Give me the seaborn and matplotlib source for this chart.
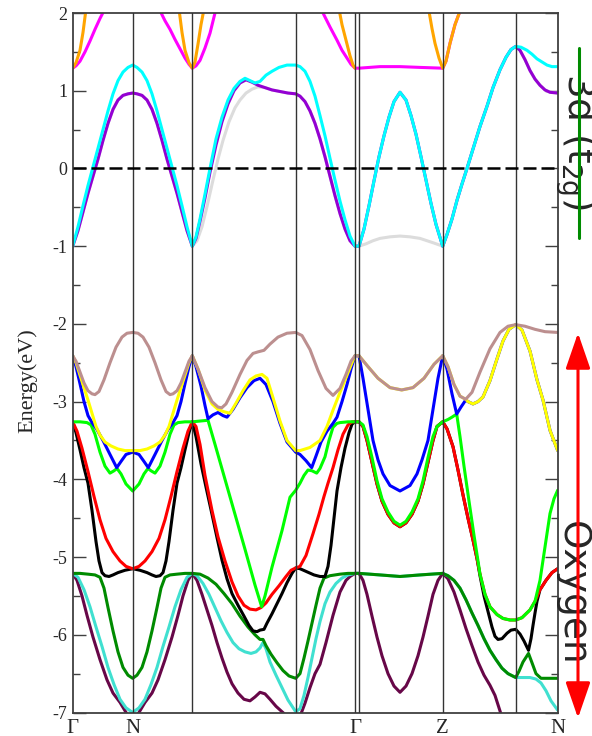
import numpy as np
import pandas as pd
import matplotlib
matplotlib.use("Agg")
import matplotlib.pyplot as plt
from matplotlib.patches import FancyArrowPatch, ArrowStyle
from matplotlib.lines import Line2D
from matplotlib.ticker import MultipleLocator
import seaborn as sns

nan = np.nan

# high symmetry points along the path (path length units)
kpts = [72.7, 132.7, 192.3, 295.7, 355.0, 359.0, 442.7, 515.7, 557.7]
klabel_pos = [72.7, 132.7, 355.0, 442.7, 557.7]
klabels = ["Γ", "N", "Γ", "Z", "N"]

# band energies (k, E in eV)
maroon = [(72.7, -5.21), (77, -5.30), (82, -5.50), (87, -5.75), (93, -6.03), (100, -6.32), (107, -6.58), (113, -6.75),
          (120, -6.87), (127, -7.02), (132.7, -7.12), (138, -7.02), (145, -6.87), (152, -6.75), (158, -6.58),
          (165, -6.32), (172, -6.03), (178, -5.75), (183, -5.50), (188, -5.30), (192.3, -5.21),
          (197, -5.30), (202, -5.48), (207, -5.68), (212, -5.88), (217, -6.10), (222, -6.30), (227, -6.48),
          (232, -6.63), (238, -6.75), (244, -6.83), (250, -6.85), (255, -6.80), (260, -6.74), (265, -6.76),
          (270, -6.83), (276, -6.92), (282, -6.99), (288, -7.06), (295.7, -7.15),
          (300, -7.05), (305, -6.88), (310, -6.68), (315, -6.50), (320, -6.38), (326, -6.10), (333, -5.75),
          (340, -5.45), (346, -5.30), (350, -5.25), (355, -5.21),
          (359, -5.21), (363, -5.30), (367, -5.48), (372, -5.76), (377, -6.03), (382, -6.27), (388, -6.50),
          (394, -6.66), (400, -6.74), (406, -6.66), (412, -6.50), (418, -6.27), (423, -6.03), (428, -5.76),
          (433, -5.48), (438, -5.30), (442.7, -5.21),
          (448, -5.28), (454, -5.45), (460, -5.68), (466, -5.92), (472, -6.14), (478, -6.35), (484, -6.52),
          (490, -6.65), (495, -6.78), (500, -6.98), (505, -7.20), (515.7, -7.50), (557.7, -7.60)]

green4 = [(72.7, -5.21), (80, -5.21), (88, -5.22), (95, -5.23), (100, -5.26), (104, -5.40), (108, -5.65), (113, -5.95),
          (118, -6.22), (123, -6.42), (128, -6.52), (132.7, -6.56), (137, -6.52), (142, -6.42), (147, -6.22),
          (152, -5.95), (157, -5.65), (161, -5.40), (165, -5.26), (170, -5.23), (177, -5.22), (185, -5.21),
          (192.3, -5.21),
          (200, -5.22), (208, -5.27), (216, -5.35), (224, -5.47), (232, -5.60), (240, -5.76), (248, -5.90),
          (255, -6.00), (260, -6.06), (263, -6.06), (266, -6.14), (271, -6.25), (277, -6.36), (283, -6.46),
          (289, -6.53), (295.7, -6.56),
          (300, -6.50), (304, -6.30), (308, -6.08), (312, -5.85), (316, -5.62), (320, -5.40), (324, -5.27),
          (330, -5.24), (340, -5.22), (348, -5.21), (355, -5.21),
          (359, -5.21), (380, -5.23), (400, -5.25), (420, -5.23), (442.7, -5.21),
          (448, -5.24), (454, -5.30), (460, -5.40), (466, -5.55), (472, -5.72), (478, -5.88), (484, -6.05),
          (490, -6.20), (496, -6.32), (502, -6.43), (508, -6.50), (515.7, -6.55),
          (519, -6.47), (523, -6.35), (528.5, -6.24), (532, -6.36), (536, -6.50), (541, -6.56), (550, -6.56),
          (557.7, -6.56)]

turq_a = [(72.7, -5.21), (78, -5.26), (84, -5.42), (90, -5.64), (96, -5.90), (102, -6.15), (108, -6.42), (114, -6.64),
          (120, -6.83), (126, -6.94), (132.7, -7.00), (139, -6.94), (145, -6.83), (151, -6.64), (157, -6.42),
          (163, -6.15), (169, -5.90), (175, -5.64), (181, -5.42), (187, -5.26), (192.3, -5.21),
          (197, -5.24), (203, -5.34), (209, -5.48), (215, -5.65), (221, -5.82), (227, -5.97), (233, -6.10),
          (239, -6.18), (245, -6.22), (251, -6.24), (256, -6.22), (260, -6.17), (263, -6.10), (266, -6.18),
          (270, -6.35), (276, -6.52), (282, -6.68), (288, -6.84), (295.7, -6.99),
          (300, -6.95), (304, -6.78), (308, -6.55), (312, -6.30), (316, -6.05), (320, -5.83), (325, -5.60),
          (330, -5.45), (336, -5.34), (342, -5.27), (348, -5.23), (355, -5.21)]
turq_b = [(522, -6.55), (530, -6.55), (536, -6.57), (541, -6.62), (546, -6.72), (551, -6.85), (557.7, -6.97)]

red = [(72.7, -3.26), (77, -3.38), (82, -3.60), (88, -3.90), (94, -4.22), (100, -4.52), (106, -4.76), (113, -4.93),
       (120, -5.05), (126, -5.12), (132.7, -5.15), (139, -5.12), (145, -5.05), (152, -4.93), (159, -4.76),
       (165, -4.52), (171, -4.22), (177, -3.90), (183, -3.60), (188, -3.38), (192.3, -3.26),
       (196, -3.32), (200, -3.55), (205, -3.95), (212, -4.40), (218, -4.74), (225, -5.05), (232, -5.32),
       (238, -5.50), (244, -5.62), (250, -5.67), (256, -5.68), (261, -5.65), (266, -5.59), (272, -5.48),
       (279, -5.37), (286, -5.25), (291, -5.17), (295.7, -5.14),
       (300, -5.12), (306, -4.98), (313, -4.70), (319, -4.45), (324, -4.22), (328, -4.05), (333, -3.85),
       (338, -3.62), (343, -3.42), (348, -3.30), (352, -3.26), (355, -3.26),
       (359, -3.26), (363, -3.32), (367, -3.50), (372, -3.78), (377, -4.06), (382, -4.28), (388, -4.45),
       (394, -4.56), (400, -4.61), (406, -4.56), (412, -4.45), (418, -4.28), (423, -4.06), (428, -3.78),
       (433, -3.50), (437, -3.32), (442.7, -3.26),
       (447, -3.35), (453, -3.58), (458, -3.88), (463, -4.20), (468, -4.50), (473, -4.78), (477, -5.02),
       (480, -5.22), (485, -5.48), (490, -5.64), (497, -5.74), (503, -5.79), (510, -5.81), (515.7, -5.81),
       (522, -5.78), (530, -5.68), (535, -5.57), (540, -5.42), (546, -5.30), (552, -5.20), (557.7, -5.15)]

black_a = [(72.7, -3.26), (76, -3.40), (80, -3.62), (84, -3.85), (88, -4.05), (92, -4.40), (96, -4.80), (99, -5.05),
           (102, -5.20), (105, -5.24), (109, -5.25), (113, -5.23), (118, -5.20), (125, -5.17), (132.7, -5.15),
           (140, -5.17), (147, -5.20), (152, -5.23), (156, -5.25), (160, -5.24), (163, -5.20), (166, -5.05),
           (169, -4.80), (173, -4.40), (177, -4.05), (181, -3.85), (185, -3.62), (189, -3.40), (192.3, -3.26),
           (196, -3.45), (201, -3.80), (206, -4.10), (212, -4.45), (217, -4.75), (222, -5.04), (227, -5.28),
           (232, -5.47), (238, -5.62), (244, -5.76), (249, -5.88), (253, -5.95), (257, -5.96), (260, -5.94),
           (264, -5.93), (267, -5.85), (272, -5.73), (277, -5.60), (282, -5.47), (287, -5.33), (292, -5.21),
           (295.7, -5.14),
           (300, -5.15), (307, -5.19), (314, -5.23), (320, -5.25), (325, -5.25), (328, -5.12), (331, -4.85),
           (334, -4.50), (337, -4.15), (341, -3.85), (345, -3.60), (349, -3.40), (352, -3.29), (355, -3.26)]
black_b = [(480, -5.24), (484, -5.50), (488, -5.70), (492, -5.90), (495, -6.02), (498, -6.06), (502, -6.05),
           (507, -5.98), (511, -5.94), (515.7, -5.93), (520, -5.99), (524, -6.08), (528.5, -6.20), (531, -6.05),
           (533, -5.88), (535, -5.72), (537, -5.57)]

green = [(72.7, -3.26), (80, -3.26), (87, -3.27), (91, -3.30), (95, -3.42), (100, -3.65), (105, -3.83), (110, -3.92),
         (114, -3.89), (117, -3.86), (121, -3.93), (126, -4.06), (132.7, -4.15), (139, -4.06), (144, -3.93),
         (148, -3.86), (151, -3.89), (155, -3.92), (160, -3.83), (165, -3.65), (170, -3.42), (174, -3.30),
         (178, -3.27), (185, -3.26), (192.3, -3.26),
         (200, -3.25), (208, -3.24), (215, -3.55), (225, -4.00), (235, -4.45), (245, -4.90), (255, -5.36),
         (261.7, -5.64), (265, -5.50), (272, -5.13), (282, -4.66), (290, -4.23), (295.7, -4.14),
         (300, -4.05), (304, -3.95), (308, -3.88), (312, -3.89), (316.7, -3.92), (320, -3.86), (325, -3.71),
         (329, -3.50), (333, -3.33), (337, -3.28), (340, -3.27), (348, -3.26), (355, -3.26),
         (359, -3.26), (363, -3.30), (367, -3.45), (372, -3.72), (377, -4.02), (382, -4.25), (388, -4.42),
         (394, -4.54), (400, -4.59), (406, -4.54), (412, -4.42), (418, -4.25), (423, -4.02), (428, -3.72),
         (433, -3.45), (437, -3.32), (442.7, -3.26),
         (448, -3.23), (452, -3.20), (456.7, -3.16), (460, -3.45), (464, -3.83), (469, -4.28), (474, -4.72),
         (478, -5.05), (480, -5.22), (485, -5.48), (490, -5.64), (497, -5.74), (503, -5.79), (510, -5.81),
         (515.7, -5.81), (522, -5.78), (530, -5.68), (535, -5.57), (540, -5.30), (545, -4.87), (550, -4.44),
         (554, -4.25), (557.7, -4.14)]

blue_a = [(72.7, -2.41), (76, -2.55), (80, -2.77), (84, -3.00), (88, -3.18), (92, -3.27), (97, -3.36), (103, -3.50),
          (110, -3.68), (116.7, -3.85), (121, -3.77), (126, -3.68), (132.7, -3.65), (139, -3.68), (144, -3.77),
          (148.3, -3.85), (155, -3.68), (162, -3.50), (168, -3.36), (173, -3.27), (177, -3.18), (181, -3.00),
          (185, -2.77), (189, -2.55), (192.3, -2.41),
          (196, -2.55), (201, -2.80), (205, -3.05), (208, -3.22), (213, -3.17), (218, -3.14), (223, -3.18),
          (227, -3.20), (233, -3.10), (240, -2.95), (247, -2.82), (254, -2.73), (260, -2.70), (266, -2.78),
          (273, -3.00), (280, -3.28), (287, -3.52), (295.7, -3.65),
          (300, -3.68), (306, -3.76), (311.7, -3.85), (316, -3.70), (321, -3.52), (327, -3.38), (333, -3.28),
          (337, -3.20), (342, -3.00), (347, -2.78), (351, -2.58), (355, -2.41),
          (359, -2.41), (363, -2.70), (368, -3.10), (373, -3.50), (378, -3.75), (383, -3.93), (390, -4.08),
          (400, -4.15), (410, -4.08), (417, -3.93), (422, -3.75), (428, -3.50), (433, -3.10), (438, -2.70),
          (442.7, -2.41),
          (447, -2.58), (452, -2.90), (456.7, -3.16), (461, -3.07), (465.7, -2.98)]

yellow_a = [(72.7, -2.41), (76, -2.50), (80, -2.66), (84, -2.82), (88, -2.98), (92, -3.15), (96, -3.32), (100, -3.43),
            (105, -3.52), (111, -3.57), (118, -3.61), (125, -3.63), (132.7, -3.63), (140, -3.63), (147, -3.61),
            (154, -3.57), (160, -3.52), (165, -3.43), (169, -3.32), (173, -3.15), (177, -2.98), (181, -2.82),
            (185, -2.66), (189, -2.50), (192.3, -2.41),
            (198, -2.58), (205, -2.85), (212, -3.03), (218, -3.10), (224, -3.13), (230, -3.15), (236, -3.02),
            (243, -2.86), (250, -2.72), (256, -2.67), (262, -2.65), (267, -2.70), (273, -2.95), (280, -3.25),
            (287, -3.50), (295.7, -3.63),
            (300, -3.63), (310, -3.59), (320, -3.50), (327, -3.32), (333, -3.11), (340, -2.88), (347, -2.66),
            (352, -2.50), (355, -2.41)]
yellow_tail = [(468, -3.00), (473, -3.03), (478, -3.00), (483, -2.94), (490, -2.73), (497, -2.45), (503, -2.22),
               (509, -2.07), (515.7, -2.01), (522, -2.08), (530, -2.35), (537, -2.72), (543, -2.98), (550, -3.37),
               (557.7, -3.63)]

brown = [(72.7, -2.41), (76, -2.48), (80, -2.62), (84, -2.76), (88, -2.86), (92, -2.90), (95, -2.91), (99, -2.87),
         (104, -2.72), (110, -2.50), (116, -2.30), (122, -2.17), (127, -2.12), (132.7, -2.11), (138, -2.12),
         (143, -2.17), (149, -2.30), (155, -2.50), (161, -2.72), (166, -2.87), (170, -2.91), (173, -2.90),
         (177, -2.86), (181, -2.76), (185, -2.62), (189, -2.48), (192.3, -2.41),
         (198, -2.58), (205, -2.82), (212, -3.00), (218, -3.07), (221.7, -3.08), (226, -3.03), (232, -2.88),
         (240, -2.65), (247, -2.47), (253, -2.38), (258, -2.36), (264, -2.34), (270, -2.26), (278, -2.17),
         (287, -2.12), (295.7, -2.11),
         (302, -2.15), (310, -2.33), (318, -2.60), (326, -2.83), (333, -2.92), (340, -2.83), (346, -2.65),
         (351, -2.48), (355, -2.41),
         (359, -2.41), (368, -2.55), (378, -2.70), (390, -2.82), (401.7, -2.85), (413, -2.82), (424, -2.70),
         (434, -2.52), (442.7, -2.41),
         (448, -2.55), (454, -2.78), (460, -2.93), (465.7, -2.97), (472, -2.88), (480, -2.62), (490, -2.32),
         (500, -2.11), (508, -2.03), (515.7, -2.01), (525, -2.03), (535, -2.07), (545, -2.10), (557.7, -2.11)]

cyan = [(72.7, -1.00), (78, -0.75), (83, -0.48), (88, -0.22), (93, 0.02), (98, 0.26), (103, 0.50), (108, 0.74),
        (113, 0.96), (118, 1.13), (123, 1.24), (128, 1.30), (132.7, 1.33), (137, 1.30), (142, 1.24), (147, 1.13),
        (152, 0.96), (157, 0.74), (162, 0.50), (167, 0.26), (172, 0.02), (177, -0.22), (182, -0.48), (187, -0.75),
        (192.3, -1.00),
        (196, -0.88), (200, -0.65), (205, -0.33), (210, 0.00), (216, 0.38), (222, 0.66), (228, 0.88), (234, 1.03),
        (240, 1.12), (245, 1.16), (250, 1.13), (255, 1.10), (260, 1.12), (266, 1.20), (272, 1.25), (279, 1.30),
        (287, 1.33), (295.7, 1.33),
        (300, 1.31), (305, 1.25), (310, 1.12), (315, 0.93), (320, 0.68), (325, 0.42), (330, 0.13), (335, -0.15),
        (340, -0.42), (345, -0.66), (350, -0.87), (355, -1.00),
        (359, -1.00), (364, -0.78), (369, -0.48), (374, -0.16), (379, 0.15), (384, 0.42), (389, 0.66), (394, 0.86),
        (400, 0.98), (406, 0.88), (411, 0.68), (416, 0.44), (421, 0.15), (426, -0.15), (431, -0.45), (436, -0.72),
        (442.7, -1.00),
        (447, -0.85), (452, -0.65), (457, -0.41), (462, -0.20), (467, 0.00), (473, 0.25), (480, 0.54), (487, 0.80),
        (493, 1.04), (500, 1.27), (506, 1.43), (511, 1.53), (515.7, 1.57), (521, 1.56), (527, 1.52), (532, 1.47),
        (537, 1.41), (542, 1.37), (547, 1.33), (552, 1.31), (557.7, 1.31)]

violet_a = [(72.7, -1.00), (78, -0.80), (83, -0.56), (88, -0.32), (93, -0.10), (98, 0.12), (103, 0.36), (108, 0.58),
            (113, 0.76), (118, 0.88), (123, 0.94), (128, 0.96), (132.7, 0.97), (137, 0.96), (142, 0.94), (147, 0.88),
            (152, 0.76), (157, 0.58), (162, 0.36), (167, 0.12), (172, -0.10), (177, -0.32), (182, -0.56),
            (187, -0.80), (192.3, -1.00),
            (196, -0.90), (200, -0.68), (205, -0.38), (210, -0.05), (216, 0.30), (222, 0.60), (228, 0.83),
            (234, 1.00), (240, 1.10), (246, 1.14), (252, 1.11), (258, 1.07), (265, 1.04), (272, 1.01), (280, 0.99),
            (288, 0.97), (295.7, 0.96),
            (300, 0.93), (305, 0.86), (310, 0.74), (315, 0.58), (320, 0.38), (325, 0.15), (330, -0.10),
            (335, -0.35), (340, -0.58), (345, -0.78), (350, -0.93), (355, -1.00)]
violet_b = [(520, 1.52), (525, 1.40), (530, 1.26), (535, 1.15), (540, 1.07), (545, 1.01), (550, 0.98), (557.7, 0.97)]

grey_a = [(197, -0.93), (202, -0.75), (207, -0.49), (213, -0.15), (218, 0.12), (223, 0.36), (229, 0.60), (235, 0.78),
          (240, 0.88), (246, 0.97), (252, 1.02), (258, 1.05)]
grey_b = [(359, -1.00), (366, -0.97), (373, -0.93), (380, -0.90), (390, -0.88), (400, -0.87), (410, -0.88),
          (420, -0.90), (427, -0.93), (434, -0.96), (442.7, -1.00)]

orange = [(72.7, 1.29), (76, 1.36), (80, 1.52), (83, 1.75), (86, 2.05), (92, 2.6), (110, 3.5), (132.7, 3.8),
          (155, 3.5), (173, 2.6), (179, 2.05), (182, 1.75), (185, 1.52), (189, 1.36), (192.3, 1.29),
          (195, 1.37), (198, 1.60), (201, 1.85), (204, 2.05), (210, 2.6), (230, 3.5), (260, 3.8), (300, 3.5),
          (333, 2.6), (339, 2.05), (342, 1.85), (346, 1.65), (350, 1.45), (353, 1.33), (355, 1.29),
          (359, nan), (427, 2.3), (429.3, 2.0), (432, 1.80), (435, 1.61), (439, 1.42), (442.7, 1.29),
          (446, 1.38), (450, 1.61), (455, 1.85), (459.3, 2.0), (463, 2.2)]

magenta_a = [(72.7, 1.29), (76, 1.32), (80, 1.38), (85, 1.50), (90, 1.64), (95, 1.79), (100, 1.93), (104, 2.03),
             (110, 2.20), (118, 2.40), (125, 2.50), (132.7, 2.53), (140, 2.50), (147, 2.40), (155, 2.20),
             (160, 2.03), (165, 1.90), (170, 1.79), (175, 1.66), (180, 1.54), (185, 1.42), (189, 1.34), (192.3, 1.29),
             (196, 1.32), (200, 1.39), (205, 1.55), (210, 1.74), (215, 2.00), (222, 2.30), (240, 2.70), (260, 2.90),
             (280, 2.80), (300, 2.50), (312, 2.25), (318, 2.10), (323, 2.00), (330, 1.82), (337, 1.65), (342, 1.52),
             (347, 1.42), (351, 1.34), (355, 1.29),
             (359, 1.29), (380, 1.31), (400, 1.31), (420, 1.30), (442.7, 1.29)]


def take(band, k0, k1):
    return [p for p in band if k0 <= p[0] <= k1]


# bands that lie on top of each other where only one colour shows
turquoise = turq_a + take(green4, 359, 515.7) + turq_b
black = black_a + take(red, 359, 477) + black_b + take(red, 540, 557.7)
yellow = yellow_a + take(brown, 359, 465.7) + yellow_tail
blue = blue_a + yellow_tail
violet = violet_a + take(cyan, 359, 515.7) + violet_b
grey = take(violet_a, 72.7, 192.3) + grey_a + take(violet_a, 265, 355) + grey_b + take(cyan, 447, 515.7) + violet_b
magenta = magenta_a + take(orange, 444, 470)

bands = [
    (maroon, "#670748"), (turquoise, "#40E0D0"), (green4, "#008B00"), (black, "black"), (red, "red"),
    (green, "#00FF00"), (blue, "blue"), (yellow, "yellow"), (brown, "#BC8F8F"), (grey, "#DCDCDC"),
    (violet, "#9400D3"), (cyan, "cyan"), (magenta, "magenta"), (orange, "#FFA500"),
]

sns.set_style("ticks")
plt.rcParams['font.family'] = ['Liberation Serif', 'DejaVu Serif']
plt.rcParams['axes.unicode_minus'] = False

fig = plt.figure(figsize=(5.92, 7.36), dpi=100)
ax = fig.add_axes([72.7 / 592, 1 - 712.5 / 736, 485 / 592, 699.5 / 736])

for pts, color in bands:
    df = pd.DataFrame(pts, columns=["k", "E"])
    df["piece"] = df["E"].isna().cumsum()
    df = df.dropna()
    sns.lineplot(data=df, x="k", y="E", units="piece", estimator=None, sort=False,
                 color=color, lw=2.2, ax=ax, legend=False, zorder=2)

for k in kpts[1:-1]:
    ax.axvline(k, color="0.2", lw=1.0, zorder=3)
ax.axhline(0, color="black", lw=1.8, dashes=(5.2, 2.0), zorder=4)

ax.set_xlim(kpts[0], kpts[-1])
ax.set_ylim(-7, 2)
ax.set_xticks(klabel_pos, klabels)
ax.set_yticks(range(-7, 3))
ax.yaxis.set_minor_locator(MultipleLocator(0.5))
ax.tick_params(axis="x", length=0, pad=4.5, labelsize=15)
ax.tick_params(axis="y", which="both", direction="in", left=True, right=True,
               labelsize=13, pad=4, color="0.25", width=1.0)
ax.tick_params(axis="y", which="major", length=9.5)
ax.tick_params(axis="y", which="minor", length=5)
for s in ax.spines.values():
    s.set_color("0.25")
    s.set_linewidth(1.3)
ax.set_xlabel("")
ax.set_ylabel("Energy(eV)", fontsize=16)
ax.yaxis.set_label_coords(-0.072, 0.474)

# side annotations
fig.text(0.972, 0.807, r"3d (t$_\mathrm{2g}$)", rotation=-90, ha="center", va="center",
         fontsize=27, family="DejaVu Sans")
fig.text(0.966, 0.194, "Oxygen", rotation=-90, ha="center", va="center",
         fontsize=27, family="DejaVu Sans")
fig.add_artist(Line2D([579 / 592, 579 / 592], [1 - 48 / 736, 1 - 238 / 736], transform=fig.transFigure,
                      color="#008B00", lw=2.2, zorder=5))
fig.add_artist(FancyArrowPatch((578 / 592, 1 - 333 / 736), (578 / 592, 1 - 718 / 736), transform=fig.transFigure,
                               arrowstyle=ArrowStyle("<|-|>", head_length=2.2, head_width=0.76),
                               mutation_scale=10, color="red", lw=2.2, shrinkA=0, shrinkB=0, zorder=5))

fig.savefig("out.png", dpi=100)
